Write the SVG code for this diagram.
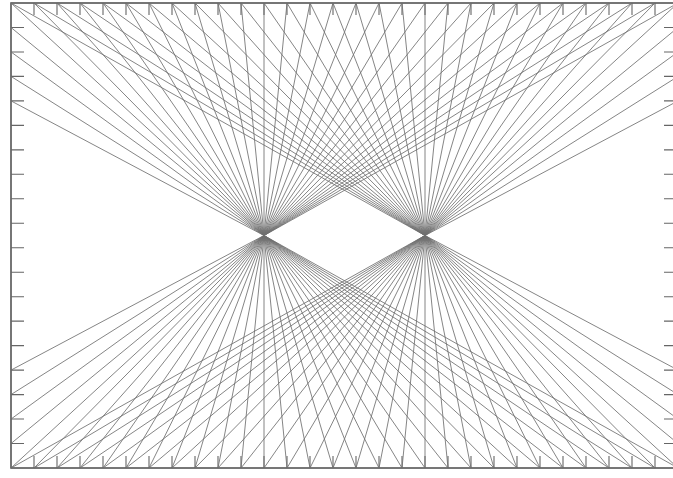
<svg xmlns="http://www.w3.org/2000/svg" width="673" height="478" viewBox="0 0 673 478">
<style>
.frame{fill:none;stroke:#4a4a4a;stroke-width:1.5}
.tick{fill:none;stroke:#666;stroke-width:1.1}
.ray{fill:none;stroke:#707070;stroke-width:1;stroke-opacity:0.85}
</style>
<rect width="673" height="478" fill="#fff"/>
<g id="frame">
<rect class="frame" x="11" y="3" width="667" height="465"/>
<path class="tick" d="M34 3v12M57 3v12M80 3v12M103 3v12M126 3v12M149 3v12M172 3v12M195 3v12M218 3v12M241 3v12M264 3v12M287 3v12M310 3v12M333 3v12M356 3v12M379 3v12M402 3v12M425 3v12M448 3v12M471 3v12M494 3v12M517 3v12M540 3v12M563 3v12M586 3v12M609 3v12M632 3v12M655 3v12"/>
<path class="tick" d="M34 468v-12M57 468v-12M80 468v-12M103 468v-12M126 468v-12M149 468v-12M172 468v-12M195 468v-12M218 468v-12M241 468v-12M264 468v-12M287 468v-12M310 468v-12M333 468v-12M356 468v-12M379 468v-12M402 468v-12M425 468v-12M448 468v-12M471 468v-12M494 468v-12M517 468v-12M540 468v-12M563 468v-12M586 468v-12M609 468v-12M632 468v-12M655 468v-12"/>
<path class="tick" d="M11 27.47h13M11 51.95h13M11 76.42h13M11 100.89h13M11 125.37h13M11 149.84h13M11 174.32h13M11 198.79h13M11 223.26h13M11 247.74h13M11 272.21h13M11 296.68h13M11 321.16h13M11 345.63h13M11 370.11h13M11 394.58h13M11 419.05h13M11 443.53h13"/>
<path class="tick" d="M678 27.47h-14M678 51.95h-14M678 76.42h-14M678 100.89h-14M678 125.37h-14M678 149.84h-14M678 174.32h-14M678 198.79h-14M678 223.26h-14M678 247.74h-14M678 272.21h-14M678 296.68h-14M678 321.16h-14M678 345.63h-14M678 370.11h-14M678 394.58h-14M678 419.05h-14M678 443.53h-14"/>
</g>
<g id="connectors">
<g id="left-focus">
<path class="ray" d="M264 235.5L11 3M264 235.5L34 3M264 235.5L57 3M264 235.5L80 3M264 235.5L103 3M264 235.5L126 3M264 235.5L149 3M264 235.5L172 3M264 235.5L195 3M264 235.5L218 3M264 235.5L241 3M264 235.5L264 3M264 235.5L287 3M264 235.5L310 3M264 235.5L333 3M264 235.5L356 3M264 235.5L379 3M264 235.5L402 3M264 235.5L425 3M264 235.5L448 3M264 235.5L471 3M264 235.5L494 3M264 235.5L517 3M264 235.5L540 3M264 235.5L563 3M264 235.5L586 3M264 235.5L609 3M264 235.5L632 3M264 235.5L655 3M264 235.5L678 3M264 235.5L11 27.47M264 235.5L11 51.95M264 235.5L11 76.42M264 235.5L11 100.89"/>
<path class="ray" d="M264 235.5L11 468M264 235.5L34 468M264 235.5L57 468M264 235.5L80 468M264 235.5L103 468M264 235.5L126 468M264 235.5L149 468M264 235.5L172 468M264 235.5L195 468M264 235.5L218 468M264 235.5L241 468M264 235.5L264 468M264 235.5L287 468M264 235.5L310 468M264 235.5L333 468M264 235.5L356 468M264 235.5L379 468M264 235.5L402 468M264 235.5L425 468M264 235.5L448 468M264 235.5L471 468M264 235.5L494 468M264 235.5L517 468M264 235.5L540 468M264 235.5L563 468M264 235.5L586 468M264 235.5L609 468M264 235.5L632 468M264 235.5L655 468M264 235.5L678 468M264 235.5L11 443.53M264 235.5L11 419.05M264 235.5L11 394.58M264 235.5L11 370.11"/>
</g>
<g id="right-focus">
<path class="ray" d="M425 235.5L11 3M425 235.5L34 3M425 235.5L57 3M425 235.5L80 3M425 235.5L103 3M425 235.5L126 3M425 235.5L149 3M425 235.5L172 3M425 235.5L195 3M425 235.5L218 3M425 235.5L241 3M425 235.5L264 3M425 235.5L287 3M425 235.5L310 3M425 235.5L333 3M425 235.5L356 3M425 235.5L379 3M425 235.5L402 3M425 235.5L425 3M425 235.5L448 3M425 235.5L471 3M425 235.5L494 3M425 235.5L517 3M425 235.5L540 3M425 235.5L563 3M425 235.5L586 3M425 235.5L609 3M425 235.5L632 3M425 235.5L655 3M425 235.5L678 3M425 235.5L678 27.47M425 235.5L678 51.95M425 235.5L678 76.42M425 235.5L678 100.89"/>
<path class="ray" d="M425 235.5L11 468M425 235.5L34 468M425 235.5L57 468M425 235.5L80 468M425 235.5L103 468M425 235.5L126 468M425 235.5L149 468M425 235.5L172 468M425 235.5L195 468M425 235.5L218 468M425 235.5L241 468M425 235.5L264 468M425 235.5L287 468M425 235.5L310 468M425 235.5L333 468M425 235.5L356 468M425 235.5L379 468M425 235.5L402 468M425 235.5L425 468M425 235.5L448 468M425 235.5L471 468M425 235.5L494 468M425 235.5L517 468M425 235.5L540 468M425 235.5L563 468M425 235.5L586 468M425 235.5L609 468M425 235.5L632 468M425 235.5L655 468M425 235.5L678 468M425 235.5L678 443.53M425 235.5L678 419.05M425 235.5L678 394.58M425 235.5L678 370.11"/>
</g>
</g>
</svg>
